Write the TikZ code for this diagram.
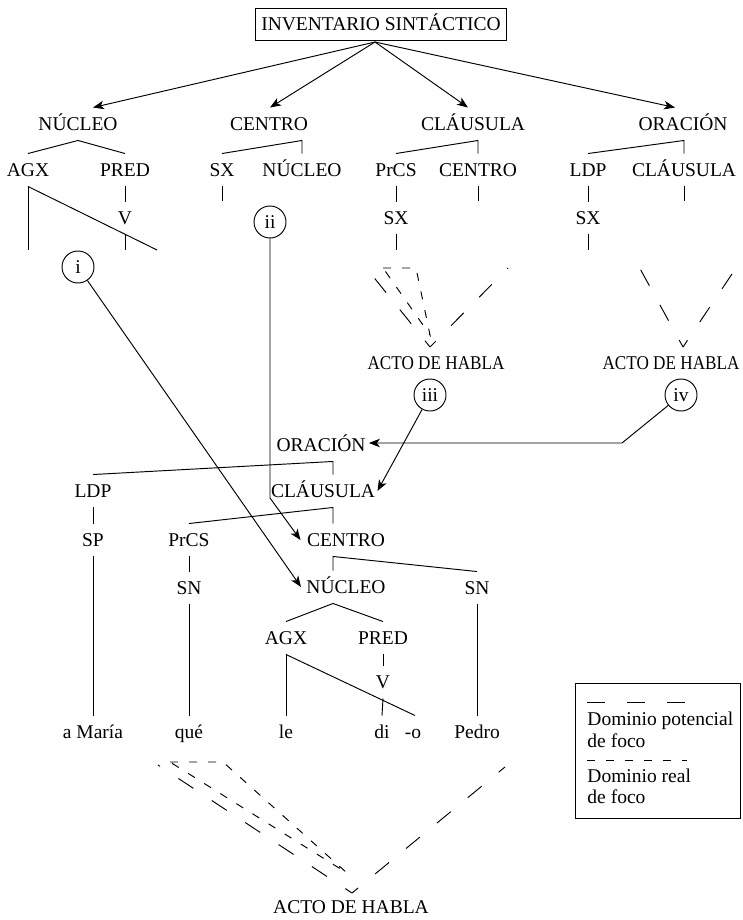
\documentclass[tikz,border=0pt]{standalone}
\usepackage{fontspec}
\setmainfont{Liberation Serif}
\newfontfamily\narrowserif[FakeStretch=0.88]{Liberation Serif}
\usetikzlibrary{arrows.meta,calc}
\begin{document}
\begin{tikzpicture}[x=1pt,y=-1pt,line width=0.95pt,
  lbl/.style={inner sep=0pt,minimum height=32pt,text height=13pt,text depth=0pt,font=\fontsize{19.5}{23}\selectfont},
  act/.style={lbl,font=\narrowserif\fontsize{19.5}{23}\selectfont},
  txt/.style={inner sep=0pt,font=\fontsize{19.5}{23}\selectfont},
  circ/.style={draw,circle,minimum size=32pt,inner sep=0pt,font=\fontsize{19.5}{23}\selectfont},
  arr/.style={-{Stealth[length=11pt,width=8.5pt,inset=3pt]}},
  pot/.style={dash pattern=on 18pt off 22pt},
  potv/.style={dash pattern=on 18pt off 22pt,dash phase=10pt},
  real/.style={dash pattern=on 8pt off 11pt}]
\useasboundingbox (0,0) rectangle (742,920);

% top
\node[lbl,draw,inner xsep=6pt] (inv) at (381,24) {INVENTARIO SINTÁCTICO};
\node[lbl] (nuc1) at (78,124) {NÚCLEO};
\node[lbl] (cen1) at (269,124) {CENTRO};
\node[lbl] (cla1) at (473,124) {CLÁUSULA};
\node[lbl] (ora1) at (683,124) {ORACIÓN};
\coordinate (top) at (375,42);
\draw[arr] (top) -- ([xshift=15pt]nuc1.north);
\draw[arr] (top) -- ([xshift=1pt]cen1.north);
\draw[arr] (top) -- ([xshift=-5pt]cla1.north);
\draw[arr] (top) -- ([xshift=-8pt]ora1.north);

\node[lbl] (agx1) at (28,170) {AGX};
\node[lbl] (pred1) at (125,170) {PRED};
\node[lbl] (sx1) at (222,170) {SX};
\node[lbl] (nuc2) at (302,170) {NÚCLEO};
\node[lbl] (prcs1) at (396,170) {PrCS};
\node[lbl] (cen2) at (478,170) {CENTRO};
\node[lbl] (ldp1) at (588,170) {LDP};
\node[lbl] (cla2) at (684,170) {CLÁUSULA};
\node[lbl] (v1) at (125,218) {V};
\node[lbl] (sx2) at (396,218) {SX};
\node[lbl] (sx3) at (588,218) {SX};

\coordinate (ub) at (0,250);
\coordinate (agxend) at (157,250);
\draw (agx1.north) -- (nuc1.south) -- (pred1.north);
\draw (sx1.north) -- (nuc2.north |- cen1.south) -- (nuc2.north);
\draw (prcs1.north) -- (cen2.north |- cla1.south) -- (cen2.north);
\draw (ldp1.north) -- (cla2.north |- ora1.south) -- (cla2.north);
\draw (pred1.south) -- (v1.north);
\draw (agx1.south) -- (agx1.south |- ub);
\draw (agx1.south) -- (agxend);
\draw (v1.south) -- (v1.south |- ub);
\draw (sx1.south) -- ++(0,15);
\draw (prcs1.south) -- (sx2.north);
\draw (sx2.south) -- (sx2.south |- ub);
\draw (cen2.south) -- ++(0,15);
\draw (ldp1.south) -- (sx3.north);
\draw (sx3.south) -- (sx3.south |- ub);
\draw (cla2.south) -- ++(0,15);

% circles
\node[circ] (ci) at (78,267) {i};
\node[circ] (cii) at (270,222) {ii};
\node[circ] (ciii) at (430,395) {iii};
\node[circ] (civ) at (681,395) {iv};

% upper focus domains
\coordinate (a1) at (363,264);
\coordinate (a2) at (430,347);
\coordinate (a3) at (508,268);
\coordinate (b1) at (383,268);
\coordinate (b2) at (416,268);
\coordinate (b3) at (430,335);
\draw[potv] (a2) -- (a1);
\draw[potv] (a2) -- (a3);
\draw[real] (b1) -- (b2) -- (b3) -- cycle;
\coordinate (c1) at (638,265);
\coordinate (c2) at (683,347);
\coordinate (c3) at (738,265);
\draw[potv] (c2) -- (c1);
\draw[potv] (c2) -- (c3);
\node[act] (ah1) at (436,363) {ACTO DE HABLA};
\node[act] (ah2) at (671,363) {ACTO DE HABLA};

% lower tree
\node[lbl] (ora3) at (321,445) {ORACIÓN};
\node[lbl] (ldp3) at (93,491) {LDP};
\node[lbl] (cla3) at (323,491) {CLÁUSULA};
\node[lbl] (sp3) at (93,540) {SP};
\node[lbl] (prcs3) at (189,540) {PrCS};
\node[lbl] (cen3) at (346,540) {CENTRO};
\node[lbl] (sn3a) at (189,588) {SN};
\node[lbl] (nuc3) at (346,587) {NÚCLEO};
\node[lbl] (sn3b) at (477,588) {SN};
\node[lbl] (agx3) at (286,638) {AGX};
\node[lbl] (pred3) at (383,638) {PRED};
\node[lbl] (v3) at (383,682) {V};
\node[lbl] (w1) at (93,732) {a María};
\node[lbl] (w2) at (189,732) {qué};
\node[lbl] (w3) at (286,732) {le};
\node[lbl] (w4) at (382,732) {di};
\node[lbl] (w5) at (413,732) {-o};
\node[lbl] (w6) at (477,732) {Pedro};

\coordinate (sp) at (333,0);
\draw (ldp3.north) -- (ora3.south -| sp) -- (cla3.north -| sp);
\draw (prcs3.north) -- (cla3.south -| sp) -- (cen3.north -| sp);
\draw (sn3b.north) -- (cen3.south -| sp) -- (nuc3.north -| sp);
\draw (agx3.north) -- (nuc3.south -| sp) -- (pred3.north);
\draw (ldp3.south) -- (sp3.north);
\draw (sp3.south) -- (w1.north);
\draw (prcs3.south) -- (sn3a.north);
\draw (sn3a.south) -- (w2.north);
\draw (agx3.south) -- (w3.north);
\draw (agx3.south) -- ([xshift=2pt]w5.north);
\draw (pred3.south) -- (v3.north);
\draw (v3.south) -- (w4.north);
\draw (sn3b.south) -- (w6.north);

% arrows into lower tree
\draw[arr] (ci) -- ([xshift=-5pt]nuc3.west);
\coordinate (iibend) at (270,498);
\draw[arr] (cii) -- (iibend) -- ([xshift=-6pt]cen3.west);
\draw[arr] (ciii) -- ([xshift=2pt]cla3.east);
\coordinate (ivbend) at (622,443);
\draw[arr] (civ) -- (ivbend) -- ([xshift=3pt,yshift=2pt]ora3.east);

% lower focus domains
\coordinate (d1) at (158,765);
\coordinate (d2) at (352,893);
\coordinate (d3) at (505,767);
\coordinate (e1) at (170,762);
\coordinate (e2) at (223,762);
\coordinate (e3) at (347,873);
\draw[potv] (d2) -- (d1);
\draw[potv] (d2) -- (d3);
\draw[real] (e1) -- (e2) -- (e3) -- cycle;
\node[lbl] (ah3) at (351,907) {ACTO DE HABLA};

% legend
\node[draw,anchor=north west,minimum width=165pt,minimum height=135pt,inner sep=0pt] (leg) at (575,683) {};
\coordinate (l1) at (587,702);
\coordinate (l2) at (687,702);
\coordinate (l3) at (587,760);
\coordinate (l4) at (687,760);
\draw[pot] (l1) -- (l2);
\draw[real] (l3) -- (l4);
\node[txt,anchor=base west] (t1) at (587,725) {Dominio potencial};
\node[txt,anchor=base west] (t2) at (587,747) {de foco};
\node[txt,anchor=base west] (t3) at (587,782) {Dominio real};
\node[txt,anchor=base west] (t4) at (587,803) {de foco};
\end{tikzpicture}
\end{document}
